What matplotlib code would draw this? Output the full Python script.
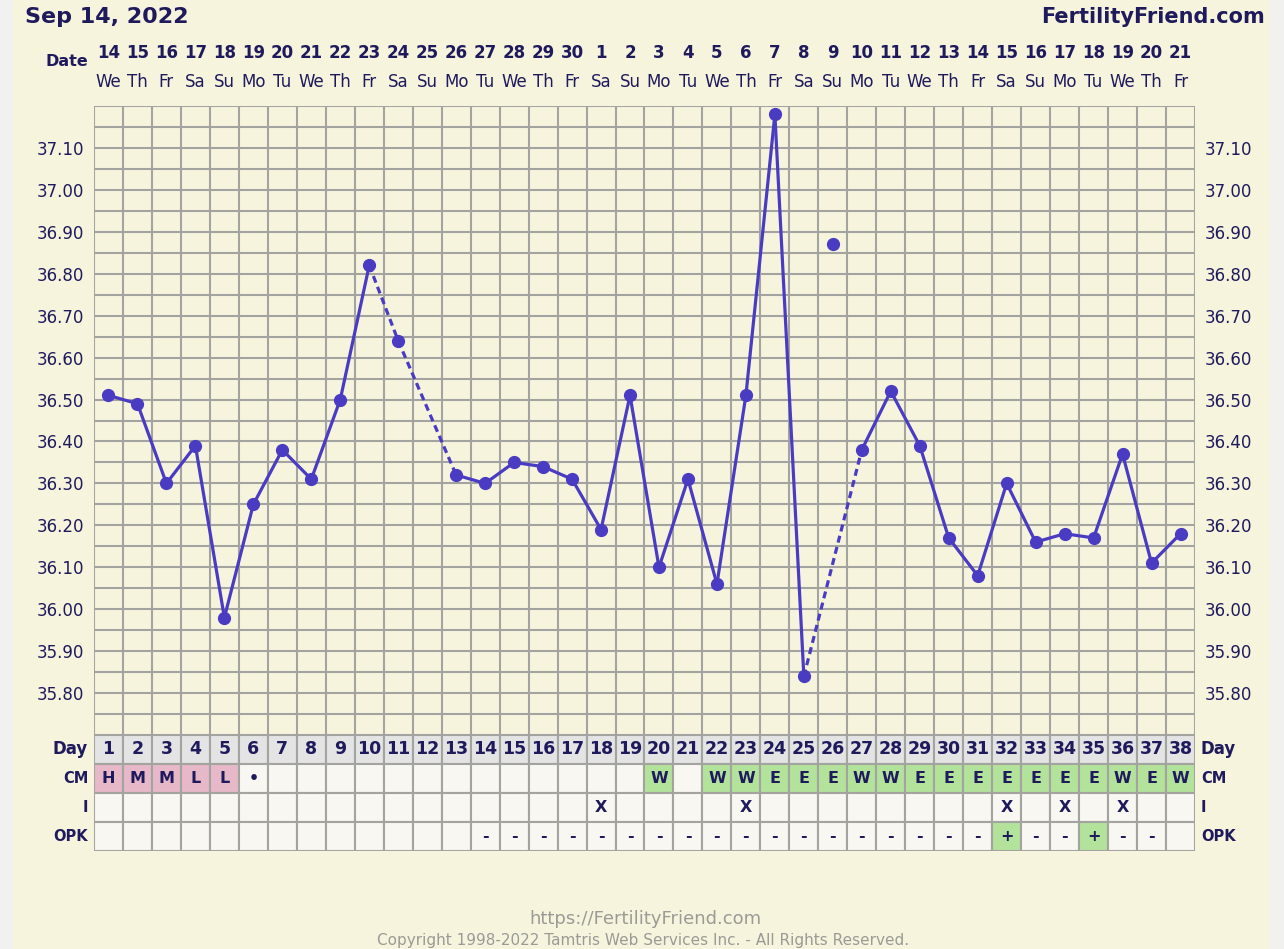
import matplotlib
matplotlib.use('Agg')
import matplotlib.pyplot as plt
import numpy as np
from matplotlib import patches

# ---- data ----
cycle_days = list(range(1, 39))
date_nums = [14, 15, 16, 17, 18, 19, 20, 21, 22, 23, 24, 25, 26, 27, 28, 29, 30,
             1, 2, 3, 4, 5, 6, 7, 8, 9, 10, 11, 12, 13, 14, 15, 16, 17, 18, 19, 20, 21]
weekdays = ['We', 'Th', 'Fr', 'Sa', 'Su', 'Mo', 'Tu'] * 6
weekdays = weekdays[:38]
temps = [36.51, 36.49, 36.30, 36.39, 35.98, 36.25, 36.38, 36.31, 36.50, 36.82,
         36.64, np.nan, 36.32, 36.30, 36.35, 36.34, 36.31, 36.19, 36.51, 36.10,
         36.31, 36.06, 36.51, 37.18, 35.84, 36.87, 36.38, 36.52, 36.39, 36.17,
         36.08, 36.30, 36.16, 36.18, 36.17, 36.37, 36.11, 36.18]
discarded_days = [26]
dashed_days = [11, 13, 27]  # segment ending on this day is dashed
cm_values = ['H', 'M', 'M', 'L', 'L', '•', '', '', '', '', '', '', '', '', '', '', '', '', '',
             'W', '', 'W', 'W', 'E', 'E', 'E', 'W', 'W', 'E', 'E', 'E', 'E', 'E', 'E', 'E',
             'W', 'E', 'W']
intercourse_days = [18, 23, 32, 34, 36]
opk_values = [''] * 13 + ['-'] * 18 + ['+', '-', '-', '+', '-', '-', '']
y_ticks = [35.80, 35.90, 36.00, 36.10, 36.20, 36.30, 36.40, 36.50, 36.60, 36.70,
           36.80, 36.90, 37.00, 37.10]

# ---- style ----
W, H = 1284, 949
BG = '#F7F4DE'
NAVY = '#1E1A5C'
LINE = '#4A3CC2'
GRID = '#A3A3A0'
PINK = '#E6B8C8'
GREEN = '#B3E29B'
CELL = '#F8F7F1'
DAYROW = '#E4E4E4'


def px_axes(fig, left, top, right, bottom):
    return fig.add_axes([left / W, 1 - bottom / H, (right - left) / W, (bottom - top) / H])


fig = plt.figure(figsize=(W / 100, H / 100), dpi=100)
fig.patch.set_facecolor('#F1F1EF')
fig.patches.append(patches.Rectangle((12 / W, 0), 1258 / W, 1, transform=fig.transFigure,
                                     facecolor=BG, edgecolor='none', zorder=-10))

x_left, x_right = 94, 1195

# temperature chart
ax = px_axes(fig, x_left, 106, x_right, 735)
ax.set_facecolor(BG)
ax.set_xlim(0.5, 38.5)
ax.set_ylim(35.70, 37.20)
for x in np.arange(0.5, 39.0, 1.0):
    ax.axvline(x, color=GRID, lw=1.5, zorder=1)
for y in np.arange(35.70, 37.2001, 0.05):
    ax.axhline(y, color=GRID, lw=1.5, zorder=1)
for s in ax.spines.values():
    s.set_visible(False)
ax.set_xticks([])
ax.set_yticks(y_ticks)
ax.set_yticklabels([f'{v:.2f}' for v in y_ticks])
ax.tick_params(axis='y', length=0, labelsize=12, labelcolor=NAVY, pad=7,
               labelright=True, right=False)

# connect points
pts = [(d, t) for d, t in zip(cycle_days, temps) if not np.isnan(t) and d not in discarded_days]
for (d0, t0), (d1, t1) in zip(pts[:-1], pts[1:]):
    style = (0, (2.2, 1.4)) if d1 in dashed_days else '-'
    ax.plot([d0, d1], [t0, t1], color=LINE, lw=2.3, ls=style, zorder=3,
            solid_capstyle='round')
ax.plot(cycle_days, temps, 'o', color=LINE, ms=8.5, zorder=4, clip_on=False)

# header
fig.text(25 / W, 1 - 17 / H, 'Sep 14, 2022', ha='left', va='center', fontsize=16,
         fontweight='bold', color=NAVY)
fig.text(1265 / W, 1 - 17 / H, 'FertilityFriend.com', ha='right', va='center', fontsize=15,
         fontweight='bold', color=NAVY)
fig.text(88 / W, 1 - 62 / H, 'Date', ha='right', va='center', fontsize=11.5,
         fontweight='bold', color=NAVY)
for d, n, wd in zip(cycle_days, date_nums, weekdays):
    xc = (x_left + (d - 0.5) * (x_right - x_left) / 38) / W
    fig.text(xc, 1 - 53 / H, str(n), ha='center', va='center', fontsize=12,
             fontweight='bold', color=NAVY)
    fig.text(xc, 1 - 82 / H, wd, ha='center', va='center', fontsize=12, color=NAVY)

# table
tb = px_axes(fig, x_left, 735, x_right, 851)
tb.set_xlim(0.5, 38.5)
tb.set_ylim(4, 0)
tb.axis('off')
row_labels = ['Day', 'CM', 'I', 'OPK']
for d in cycle_days:
    cm = cm_values[d - 1]
    opk = opk_values[d - 1]
    fills = [DAYROW,
             PINK if cm in ('H', 'M', 'L') else (GREEN if cm in ('W', 'E') else CELL),
             CELL,
             GREEN if opk == '+' else CELL]
    texts = [str(d), cm, 'X' if d in intercourse_days else '', opk]
    for r in range(4):
        tb.add_patch(patches.Rectangle((d - 0.5, r), 1, 1, facecolor=fills[r],
                                       edgecolor=GRID, lw=1.5))
        if texts[r]:
            tb.text(d, r + 0.5, texts[r], ha='center', va='center',
                    fontsize=12.5 if r == 0 else 11.5, fontweight='bold', color=NAVY)
for r, lab in enumerate(row_labels):
    size = 12 if r == 0 else 10.5
    tb.text(0.3, r + 0.5, lab, ha='right', va='center', fontsize=size,
            fontweight='bold', color=NAVY)
    tb.text(38.7, r + 0.5, lab, ha='left', va='center', fontsize=size,
            fontweight='bold', color=NAVY)

# footer
fig.text(645 / W, 1 - 919 / H, 'https://FertilityFriend.com', ha='center', va='center',
         fontsize=13, color='#9A9A96')
fig.text(643 / W, 1 - 941 / H, 'Copyright 1998-2022 Tamtris Web Services Inc. - All Rights Reserved.',
         ha='center', va='center', fontsize=11, color='#9A9A96')

fig.savefig('out.png', dpi=100, facecolor=fig.get_facecolor())
